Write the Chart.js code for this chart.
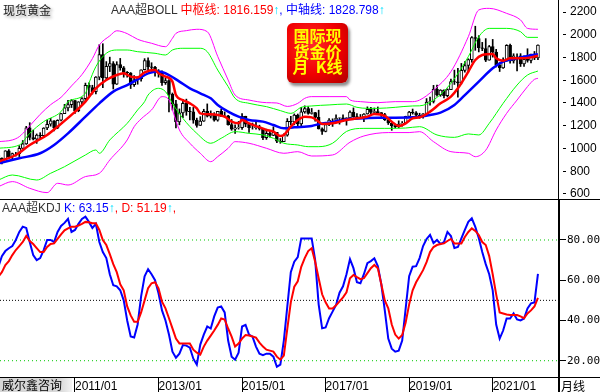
<!DOCTYPE html>
<html>
<head>
<meta charset="utf-8">
<script src="https://cdn.jsdelivr.net/npm/chart.js@4.4.0/dist/chart.umd.min.js"></script>
<style>
body{margin:0;background:#fff}
#wrap{position:relative;width:600px;height:392px;overflow:hidden;background:#fff;font-family:"Liberation Sans","Noto Sans CJK SC",sans-serif}
canvas{position:absolute;left:0}
.t{position:absolute;white-space:pre;font-size:12px;line-height:14px;color:#000}
.line{position:absolute;background:#000}
#badge{position:absolute;left:287px;top:23px;width:61px;height:60px;border-radius:6px;
  background:radial-gradient(ellipse at 40% 35%,#ff2a2a 0%,#f00000 55%,#b00000 100%);
  box-shadow:2px 3px 3px rgba(0,0,0,0.45);color:#ffff00;font:bold 16px "Noto Sans CJK SC",sans-serif;
  line-height:15.5px;text-align:center;padding-top:5px;box-sizing:border-box;white-space:pre}
#brand{position:absolute;left:0;top:378px;width:72px;height:14px;background:linear-gradient(to right,#d6d6d6 82%,#f4f4f4);
  font:12px "Noto Sans CJK SC",sans-serif;line-height:14px;padding-left:2px;box-sizing:border-box}
</style>
</head>
<body>
<div id="wrap">
<canvas id="priceChart" width="600" height="200" style="top:0"></canvas>
<canvas id="kdjChart" width="600" height="192" style="top:200px"></canvas>

<div class="line" style="left:0;top:199px;width:600px;height:1px"></div>
<div class="line" style="left:0;top:377px;width:600px;height:1px"></div>
<div class="line" style="left:558px;top:199px;width:2px;height:193px"></div>

<div class="t" style="left:3px;top:3px;color:#222;font-family:'Noto Sans CJK SC';text-shadow:2px 2px 3px #999">现货黄金</div>
<div class="t" style="left:111px;top:3px"><span style="color:#333">AAA超BOLL </span><span style="color:#f00">中枢线: 1816.159</span><span style="color:#00e0ff">↑</span><span style="color:#00f">, 中轴线: 1828.798</span><span style="color:#00e0ff">↑</span></div>
<div id="badge">国际现
货金价
月  K线</div>

<div class="t" style="left:2px;top:201px"><span style="color:#333">AAA超KDJ </span><span style="color:#00f">K: 63.15</span><span style="color:#00e0ff">↑</span><span style="color:#f00">, D: 51.19</span><span style="color:#00e0ff">↑</span><span style="color:#f00">,</span></div>
<div id="brand">威尔鑫咨询</div>
<div class="t" style="left:561px;top:379px;font-family:'Noto Sans CJK SC'">月线</div>
</div>

<script>
// monthly candles, first month is 2009/03
const startLabel = '2009/03';
const tickLabels = ['2011/01', '2013/01', '2015/01', '2017/01', '2019/01', '2021/01'];
const priceTicks = [600, 800, 1000, 1200, 1400, 1600, 1800, 2000, 2200];
const kdjTicks = [20, 40, 60, 80];
const kdjLevels = [80, 50, 20];

const opens = [
 942,916,884,979,927,955,955,1001,1040,1182,
 1097,1081,1118,1113,1180,1213,1244,1181,1248,1307,1357,1386,
 1421,1333,1410,1439,1556,1536,1500,1628,1826,1620,1722,1746,
 1566,1738,1710,1669,1664,1561,1604,1614,1692,1773,1719,1713,
 1675,1663,1578,1597,1476,1393,1234,1313,1396,1327,1323,1250,
 1202,1240,1326,1284,1296,1250,1327,1282,1287,1210,1171,1182,
 1184,1283,1213,1183,1183,1190,1172,1095,1134,1115,1142,1065,
 1061,1118,1238,1233,1294,1215,1322,1351,1309,1316,1273,1173,
 1151,1211,1249,1249,1268,1269,1242,1269,1321,1280,1271,1275,
 1303,1345,1318,1325,1315,1299,1253,1224,1201,1192,1215,1222,
 1282,1321,1313,1292,1284,1305,1409,1413,1520,1472,1513,1464,
 1517,1589,1585,1577,1687,1730,1781,1975,1967,1886,1879,1776,
 1895,1847,1734,1708,1769,1906,1770,1814,1814,1743,1783,1774,
 1829,1797];
const highs = [
 1007,917,981,990,960,966,1025,1070,1195,1227,
 1162,1128,1139,1183,1249,1265,1245,1253,1310,1388,1424,1431,
 1424,1412,1447,1575,1577,1556,1632,1913,1921,1764,1803,1764,
 1763,1792,1721,1677,1668,1640,1631,1692,1790,1796,1754,1723,
 1694,1683,1617,1605,1488,1424,1348,1433,1434,1361,1361,1267,
 1280,1345,1392,1331,1315,1326,1345,1322,1292,1255,1208,1238,
 1307,1284,1220,1224,1232,1205,1175,1170,1157,1191,1142,1088,
 1128,1263,1283,1304,1303,1362,1375,1367,1352,1318,1337,1181,
 1220,1264,1261,1295,1270,1296,1270,1331,1357,1306,1299,1307,
 1366,1361,1356,1365,1316,1309,1265,1237,1214,1243,1237,1284,
 1326,1347,1324,1310,1306,1439,1453,1555,1557,1517,1516,1525,
 1611,1689,1704,1748,1765,1789,1984,2075,1992,1933,1966,1906,
 1959,1872,1756,1798,1913,1917,1833,1832,1834,1814,1877,1831,
 1853,1912];
const lows = [
 881,865,884,915,905,933,929,1000,1036,1075,
 1075,1045,1088,1113,1165,1196,1155,1174,1242,1307,1330,1360,
 1309,1323,1381,1415,1462,1478,1480,1604,1535,1601,1676,1523,
 1563,1688,1627,1627,1527,1546,1565,1592,1690,1692,1671,1635,
 1627,1555,1563,1321,1338,1180,1208,1271,1292,1251,1222,1187,
 1202,1238,1277,1268,1240,1240,1282,1274,1206,1160,1132,1170,
 1167,1191,1142,1170,1169,1162,1077,1080,1099,1113,1052,1046,
 1061,1108,1208,1208,1200,1200,1310,1301,1302,1241,1171,1123,
 1146,1200,1194,1244,1214,1236,1205,1267,1275,1261,1264,1236,
 1302,1307,1303,1309,1281,1246,1211,1160,1180,1182,1196,1221,
 1276,1302,1281,1266,1266,1301,1381,1400,1459,1459,1445,1453,
 1517,1563,1451,1567,1670,1671,1758,1863,1849,1860,1764,1776,
 1803,1717,1677,1704,1766,1750,1751,1682,1721,1721,1759,1753,
 1781,1781];
const closes = [
 916,884,979,927,955,955,1001,1040,1182,1097,
 1081,1118,1113,1180,1213,1244,1181,1248,1307,1357,1386,1421,
 1333,1410,1439,1556,1536,1500,1628,1826,1620,1722,1746,1566,
 1738,1710,1669,1664,1561,1604,1614,1692,1773,1719,1713,1675,
 1663,1578,1597,1476,1393,1234,1313,1396,1327,1323,1250,1202,
 1240,1326,1284,1296,1250,1327,1282,1287,1210,1171,1182,1184,
 1283,1213,1183,1183,1190,1172,1095,1134,1115,1142,1065,1061,
 1118,1238,1233,1294,1215,1322,1351,1309,1316,1273,1173,1151,
 1211,1249,1249,1268,1269,1242,1269,1321,1280,1271,1275,1303,
 1345,1318,1325,1315,1299,1253,1224,1201,1192,1215,1222,1282,
 1321,1313,1292,1284,1305,1409,1413,1520,1472,1513,1464,1517,
 1589,1585,1577,1687,1730,1781,1975,1967,1886,1879,1776,1895,
 1847,1734,1708,1769,1906,1770,1814,1814,1743,1783,1774,1829,
 1797,1909];

// BOLL lines: [months after 2009/03, value]
const outerUpper = [[0,1060],[4,1075],[6,1104],[8,1165],[12,1300],[15,1385],[18,1450],[21,1550],[24,1650],[27,1790],[29,1910],[32,1990],[34,2035],[37,2010],[40,1960],[44,1925],[48,1895],[50,1969],[51,2012],[54,2036],[57,2048],[60,2027],[63,1810],[66,1602],[68,1470],[72,1426],[77,1403],[80,1400],[83,1370],[86,1397],[88,1441],[90,1456],[95,1456],[100,1456],[101,1427],[104,1412],[109,1403],[114,1412],[119,1412],[121,1426],[125,1514],[130,1676],[135,1983],[138,2218],[141,2232],[146,2188],[150,2130],[152,2056],[155,2048]];
const innerUpper = [[0,1002],[6,1031],[9,1133],[13,1236],[18,1324],[20,1412],[25,1485],[26,1573],[28,1720],[31,1837],[34,1866],[37,1866],[40,1851],[45,1837],[48,1822],[50,1866],[53,1881],[58,1881],[60,1851],[63,1690],[66,1544],[68,1441],[72,1397],[77,1368],[81,1333],[84,1309],[87,1362],[90,1374],[95,1383],[100,1391],[103,1362],[106,1353],[109,1353],[114,1362],[119,1374],[121,1375],[125,1426],[130,1573],[135,1808],[138,1983],[141,2056],[146,2056],[150,2027],[152,1977],[155,1977]];
const pivotLine = [[0,884],[5,943],[9,1031],[14,1119],[17,1192],[21,1295],[25,1412],[28,1529],[31,1602],[34,1646],[36,1661],[38,1632],[40,1625],[42,1670],[45,1690],[46,1661],[48,1632],[50,1588],[51,1470],[53,1426],[55,1397],[57,1353],[58,1309],[61,1300],[63,1295],[65,1280],[67,1236],[69,1221],[70,1251],[72,1221],[75,1186],[77,1163],[79,1148],[81,1110],[82,1119],[84,1192],[86,1251],[88,1280],[90,1274],[92,1236],[93,1216],[96,1221],[100,1251],[103,1265],[106,1280],[108,1303],[111,1286],[113,1236],[115,1198],[117,1221],[119,1265],[121,1274],[124,1324],[127,1397],[130,1456],[132,1529],[135,1676],[137,1778],[139,1822],[142,1831],[143,1793],[145,1772],[147,1793],[150,1793],[153,1801],[155,1816.159]];
const axisLine = [[0,870],[6,914],[12,958],[16,1031],[20,1133],[25,1280],[29,1397],[33,1500],[37,1558],[40,1608],[43,1661],[46,1676],[49,1646],[52,1588],[55,1529],[58,1485],[61,1441],[63,1383],[66,1324],[69,1280],[72,1251],[76,1236],[79,1207],[82,1177],[85,1186],[90,1198],[93,1221],[95,1227],[100,1256],[105,1265],[109,1271],[114,1271],[119,1274],[121,1280],[124,1295],[127,1315],[131,1383],[134,1470],[138,1588],[142,1705],[145,1763],[149,1793],[152,1813],[155,1828.798]];
const innerLower = [[0,723],[4,767],[11,723],[15,782],[19,840],[25,943],[28,987],[29,958],[32,1075],[37,1221],[40,1339],[42,1412],[43,1470],[46,1529],[48,1500],[50,1397],[53,1265],[57,1133],[61,1046],[64,1090],[68,1148],[72,1133],[76,1119],[79,1090],[82,1046],[86,1031],[89,1016],[92,1016],[96,1046],[100,1150],[105,1177],[111,1177],[117,1180],[121,1192],[126,1119],[131,1098],[135,1128],[138,1119],[141,1221],[145,1397],[149,1558],[152,1646],[155,1681]];
const outerLower = [[0,665],[4,709],[9,650],[14,612],[17,694],[20,679],[25,753],[29,782],[32,899],[37,1075],[39,1192],[41,1260],[44,1339],[47,1456],[49,1427],[50,1339],[52,1163],[55,1046],[58,958],[61,884],[63,928],[66,1002],[68,1060],[72,1046],[77,1002],[82,958],[86,972],[90,934],[96,943],[101,1055],[105,1110],[112,1140],[118,1140],[121,1148],[125,1060],[130,972],[135,958],[137,928],[140,985],[143,1163],[146,1309],[149,1426],[152,1544],[154,1608],[155,1617]];

// KDJ, one value per month
const kValues = [
 66.7,72,74.5,75.9,77,80,84,86.6,86,79,
 72.5,70,71,75,80,80,79,84,87,88.5,
 90.5,84,85,88,90.5,91.6,89,86,88,79,
 74,71,63,57.5,57,55,50,40,32,31.5,
 38,52,62,65.5,63,60,53.5,45,40,33,
 24.5,21.5,23.5,27.8,27.5,26.5,21,18,28,33,
 37,36,42,46.4,47,44,30,22,20.5,24,
 37,37.8,33,32,27,23.5,22.8,23.5,23.5,22,
 17,18,30,47,64,69.2,71.5,80.8,80.8,80.8,
 80.8,70,48,36.1,36.5,41.1,44.4,47.7,53.8,57,
 63,70.5,66,59,58.5,63,68.5,69.5,70.9,67,
 58,45,31,26,24.5,25,30,46,62,66.7,
 67,71,77,80.5,82.5,78.5,80,78,79,84,
 82,76,76.5,80.8,85,89,90.8,86.5,81,74,
 68,63,55,38,31,35,41,41,43.5,40.5,
 40,41,46,48.5,49,63.15];
const dValues = [
 61.8,64,67.5,69.5,72.5,75,77,79,82,79.5,
 78,76,74,74,76.5,78,78.3,80.5,82.8,84.8,
 85.8,86.6,86.6,87.2,88,89,88.8,88.3,88.3,85,
 80,77.5,73,68,64,58,55,47,42.5,39.4,
 39.4,44,50,56,58.5,59,56,49.3,46,41.1,
 36.1,31,28.6,28.6,28.6,28.6,25.5,24,23,27,
 30,32.5,35,37.8,41,40.5,36,32,27,28.5,
 31,32.8,32.5,32,31.5,29,27,25.5,25,24.5,
 22,20.5,22.5,36,49,56.8,59.5,66.7,71,74.5,
 75.9,69.2,61,53,49,46,46,47.5,49.5,51.5,
 54,61,62.6,61.5,60.5,61,63.5,66,67.6,66,
 58,50,46,38,33,31,32.8,39,48,55,
 59,62,65,69,74,76.5,77.5,78,78.3,79.5,
 80.5,78.3,78.3,78.3,81.5,84,85.8,84.5,82.5,79,
 77.5,72,63,53,44,43.5,43,42.7,42.7,42.7,
 42,41.1,43.5,45,47,51.19];

function monthIndex(label){
  var a = label.split('/').map(Number), b = startLabel.split('/').map(Number);
  return (a[0]-b[0])*12 + (a[1]-b[1]);
}
var pts = arr => arr.map(p => ({x:p[0], y:p[1]}));
var monthly = arr => arr.map((v,i) => ({x:i, y:v}));

var xMin = 0.46, xMax = 160.76;
var axisFont = {family:'Liberation Sans', size:12};

function bandLine(points, color, width){
  return {type:'line', data:pts(points), borderColor:color, borderWidth:width, pointRadius:0,
          cubicInterpolationMode:'monotone', order:1};
}
function fixY(s){ s.width = 42; s.paddingTop = 0; s.paddingBottom = 0; }

new Chart(document.getElementById('priceChart'), {
  type:'line',
  data:{datasets:[
    bandLine(pivotLine, '#ff0000', 2.5),
    bandLine(axisLine, '#0000ff', 2.5),
    bandLine(outerUpper, '#ff00ff', 1),
    bandLine(innerUpper, '#00ff00', 1),
    bandLine(innerLower, '#00ff00', 1),
    bandLine(outerLower, '#ff00ff', 1),
    {type:'bar', data:opens.map((o,i) => ({x:i, y:[o, closes[i]]})),
     backgroundColor:opens.map((o,i) => closes[i] >= o ? '#ffffff' : '#000000'),
     borderColor:'#000', borderWidth:1, borderSkipped:false, barThickness:3, grouped:false, order:2},
    {type:'bar', data:lows.map((l,i) => ({x:i, y:[l, highs[i]]})),
     backgroundColor:'#000', barThickness:1, grouped:false, order:3}
  ]},
  options:{
    responsive:false, animation:false, events:[],
    layout:{padding:{top:0, bottom:1, left:0, right:0}},
    plugins:{legend:{display:false}, tooltip:{enabled:false}},
    scales:{
      x:{type:'linear', min:xMin, max:xMax, display:false, offset:false, grid:{offset:false}},
      y:{position:'right', min:556, max:2305.5, afterFit:fixY,
         afterBuildTicks: s => { s.ticks = priceTicks.map(v => ({value:v})); },
         ticks:{color:'#000', font:axisFont, padding:4, callback: v => String(v)},
         grid:{drawOnChartArea:false, color:'#000', tickLength:8, tickBorderDash:[4,4], tickBorderDashOffset:4},
         border:{color:'#000', width:1}}
    }
  }
});

var levelColors = {80:'#00c800', 50:'#000000', 20:'#00c800'};
var levelSets = kdjLevels.map(v => ({
  type:'line', data:[{x:xMin, y:v}, {x:xMax, y:v}], borderColor:levelColors[v], borderWidth:1,
  borderDash: v === 50 ? [1,2] : [1,3], pointRadius:0, order:3
}));

new Chart(document.getElementById('kdjChart'), {
  type:'line',
  data:{datasets:[
    {data:monthly(dValues), borderColor:'#ff0000', borderWidth:2, pointRadius:0, order:1},
    {data:monthly(kValues), borderColor:'#0000ff', borderWidth:2, pointRadius:0, order:2}
  ].concat(levelSets)},
  options:{
    responsive:false, animation:false, events:[],
    layout:{padding:0},
    plugins:{legend:{display:false}, tooltip:{enabled:false}},
    scales:{
      x:{type:'linear', min:xMin, max:xMax, position:'bottom', offset:false,
         afterBuildTicks: s => { s.ticks = tickLabels.map(l => ({value:monthIndex(l)})); },
         afterFit: s => { s.height = 15; s.paddingLeft = 0; s.paddingRight = 0; },
         ticks:{align:'start', color:'#000', font:axisFont, padding:-13, maxRotation:0, autoSkip:false,
                callback:(v,i) => tickLabels[i]},
         grid:{drawOnChartArea:false, color:'#000', tickLength:15},
         border:{display:false}},
      y:{position:'right', min:11.9, max:99.88, afterFit:fixY,
         afterBuildTicks: s => { s.ticks = kdjTicks.map(v => ({value:v})); },
         ticks:{color:'#000', font:{family:'DejaVu Sans Mono', size:11}, padding:1, callback: v => v.toFixed(2)},
         grid:{drawOnChartArea:false, color:'#000', tickLength:8},
         border:{display:false}}
    }
  }
});
</script>
</body>
</html>
